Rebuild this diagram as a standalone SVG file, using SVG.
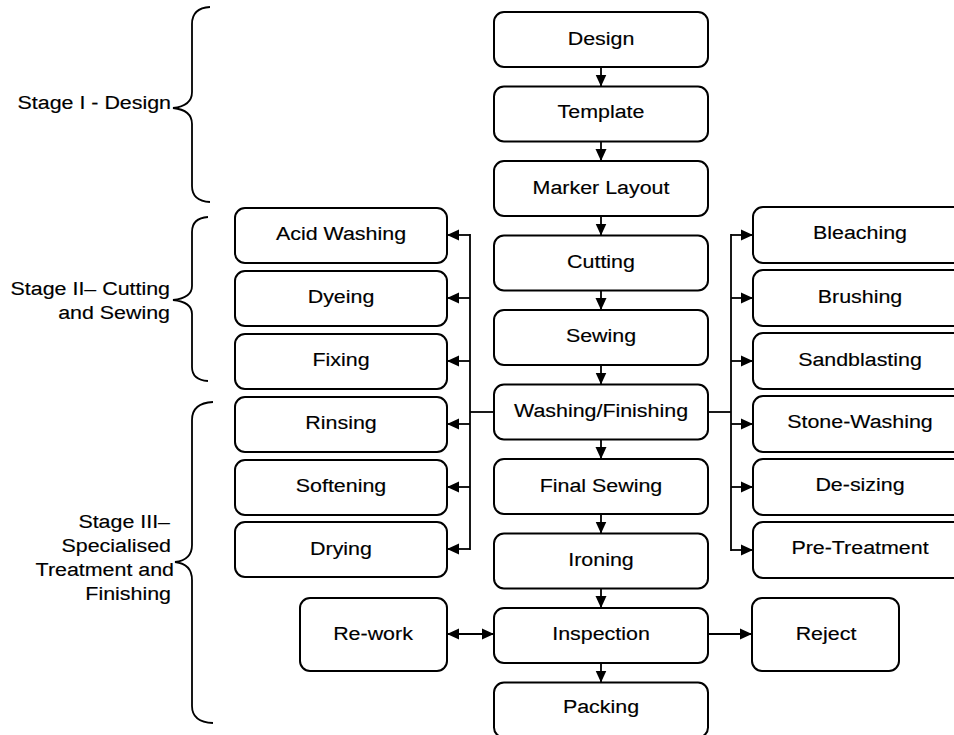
<svg xmlns="http://www.w3.org/2000/svg" width="954" height="735" viewBox="0 0 954 735">
<defs>
<style>
.box{fill:#fff;stroke:#000;stroke-width:2}
.t{font-family:"Liberation Sans",Arial,sans-serif;font-size:18px;fill:#000;stroke:#000;stroke-width:0.15;text-anchor:middle}
.s{font-family:"Liberation Sans",Arial,sans-serif;font-size:18px;fill:#000;stroke:#000;stroke-width:0.15;text-anchor:end}
.c{fill:none;stroke:#000;stroke-width:1.8}
.br{fill:none;stroke:#000;stroke-width:1.8}
</style>
<marker id="ah" markerUnits="userSpaceOnUse" markerWidth="13" markerHeight="13" refX="12" refY="6.5" orient="auto-start-reverse">
<path d="M0,1 L12,6.5 L0,12 z" fill="#000"/>
</marker>
</defs>
<rect width="954" height="735" fill="#fff"/>

<g id="braces">
<path class="br" d="M210,7 Q192,8 192,24 L192,92 Q192,106 173,108 Q192,110 192,124 L192,186 Q192,201 210,202"/>
<path class="br" d="M208,217 Q192,218 192,232 L192,286 Q192,298 173,300 Q192,302 192,314 L192,367 Q192,380 208,381"/>
<path class="br" d="M213,402 Q192,403 192,420 L192,545 Q192,560 175,562 Q192,564 192,580 L192,706 Q192,722 213,723"/>
</g>

<g id="stage-labels">
<text class="s" transform="translate(171,109) scale(1.19,1)">Stage I - Design</text>
<text class="s" transform="translate(170,295) scale(1.19,1)">Stage II– Cutting</text>
<text class="s" transform="translate(170,319) scale(1.19,1)">and Sewing</text>
<text class="s" transform="translate(170,528) scale(1.19,1)">Stage III–</text>
<text class="s" transform="translate(171,552) scale(1.19,1)">Specialised</text>
<text class="s" transform="translate(174,576) scale(1.19,1)">Treatment and</text>
<text class="s" transform="translate(171,600) scale(1.19,1)">Finishing</text>
</g>

<g id="connectors">
<line class="c" x1="601" y1="67" x2="601" y2="86.5" marker-end="url(#ah)"/>
<line class="c" x1="601" y1="141.5" x2="601" y2="161" marker-end="url(#ah)"/>
<line class="c" x1="601" y1="216" x2="601" y2="235.5" marker-end="url(#ah)"/>
<line class="c" x1="601" y1="290.5" x2="601" y2="310" marker-end="url(#ah)"/>
<line class="c" x1="601" y1="365" x2="601" y2="384.5" marker-end="url(#ah)"/>
<line class="c" x1="601" y1="439.5" x2="601" y2="459" marker-end="url(#ah)"/>
<line class="c" x1="601" y1="514" x2="601" y2="533.5" marker-end="url(#ah)"/>
<line class="c" x1="601" y1="588.5" x2="601" y2="608" marker-end="url(#ah)"/>
<line class="c" x1="601" y1="663" x2="601" y2="682.5" marker-end="url(#ah)"/>
<!-- left branch -->
<polyline class="c" points="494,412 470,412"/>
<line class="c" x1="470" y1="234" x2="470" y2="550"/>
<line class="c" x1="470" y1="235" x2="447" y2="235" marker-end="url(#ah)"/>
<line class="c" x1="470" y1="298" x2="447" y2="298" marker-end="url(#ah)"/>
<line class="c" x1="470" y1="361" x2="447" y2="361" marker-end="url(#ah)"/>
<line class="c" x1="470" y1="424" x2="447" y2="424" marker-end="url(#ah)"/>
<line class="c" x1="470" y1="487" x2="447" y2="487" marker-end="url(#ah)"/>
<line class="c" x1="470" y1="549" x2="447" y2="549" marker-end="url(#ah)"/>
<!-- right branch -->
<polyline class="c" points="708,412 731,412"/>
<line class="c" x1="731" y1="234" x2="731" y2="551"/>
<line class="c" x1="731" y1="235" x2="753" y2="235" marker-end="url(#ah)"/>
<line class="c" x1="731" y1="298" x2="753" y2="298" marker-end="url(#ah)"/>
<line class="c" x1="731" y1="361" x2="753" y2="361" marker-end="url(#ah)"/>
<line class="c" x1="731" y1="424" x2="753" y2="424" marker-end="url(#ah)"/>
<line class="c" x1="731" y1="487" x2="753" y2="487" marker-end="url(#ah)"/>
<line class="c" x1="731" y1="550" x2="753" y2="550" marker-end="url(#ah)"/>
<!-- inspection -->
<line class="c" x1="447" y1="634" x2="494" y2="634" marker-start="url(#ah)" marker-end="url(#ah)"/>
<line class="c" x1="708" y1="634" x2="752" y2="634" marker-end="url(#ah)"/>
</g>

<g id="design"><rect class="box" x="494" y="12" width="214" height="55" rx="10"/><text class="t" transform="translate(601,45) scale(1.19,1)">Design</text></g>
<g id="template"><rect class="box" x="494" y="86.5" width="214" height="55" rx="10"/><text class="t" transform="translate(601,118) scale(1.19,1)">Template</text></g>
<g id="marker-layout"><rect class="box" x="494" y="161" width="214" height="55" rx="10"/><text class="t" transform="translate(601,194) scale(1.19,1)">Marker Layout</text></g>
<g id="cutting"><rect class="box" x="494" y="235.5" width="214" height="55" rx="10"/><text class="t" transform="translate(601,268) scale(1.19,1)">Cutting</text></g>
<g id="sewing"><rect class="box" x="494" y="310" width="214" height="55" rx="10"/><text class="t" transform="translate(601,342) scale(1.19,1)">Sewing</text></g>
<g id="washing-finishing"><rect class="box" x="494" y="384.5" width="214" height="55" rx="10"/><text class="t" transform="translate(601,417) scale(1.19,1)">Washing/Finishing</text></g>
<g id="final-sewing"><rect class="box" x="494" y="459" width="214" height="55" rx="10"/><text class="t" transform="translate(601,492) scale(1.19,1)">Final Sewing</text></g>
<g id="ironing"><rect class="box" x="494" y="533.5" width="214" height="55" rx="10"/><text class="t" transform="translate(601,566) scale(1.19,1)">Ironing</text></g>
<g id="inspection"><rect class="box" x="494" y="608" width="214" height="55" rx="10"/><text class="t" transform="translate(601,640) scale(1.19,1)">Inspection</text></g>
<g id="packing"><rect class="box" x="494" y="682.5" width="214" height="55" rx="10"/><text class="t" transform="translate(601,713) scale(1.19,1)">Packing</text></g>

<g id="acid-washing"><rect class="box" x="235" y="208" width="212" height="55" rx="10"/><text class="t" transform="translate(341,240) scale(1.19,1)">Acid Washing</text></g>
<g id="dyeing"><rect class="box" x="235" y="271" width="212" height="55" rx="10"/><text class="t" transform="translate(341,303) scale(1.19,1)">Dyeing</text></g>
<g id="fixing"><rect class="box" x="235" y="334" width="212" height="55" rx="10"/><text class="t" transform="translate(341,366) scale(1.19,1)">Fixing</text></g>
<g id="rinsing"><rect class="box" x="235" y="397" width="212" height="55" rx="10"/><text class="t" transform="translate(341,429) scale(1.19,1)">Rinsing</text></g>
<g id="softening"><rect class="box" x="235" y="460" width="212" height="55" rx="10"/><text class="t" transform="translate(341,492) scale(1.19,1)">Softening</text></g>
<g id="drying"><rect class="box" x="235" y="522" width="212" height="55" rx="10"/><text class="t" transform="translate(341,555) scale(1.19,1)">Drying</text></g>

<g id="bleaching"><rect class="box" x="753" y="207" width="214" height="56" rx="10"/><text class="t" transform="translate(860,239) scale(1.19,1)">Bleaching</text></g>
<g id="brushing"><rect class="box" x="753" y="270" width="214" height="56" rx="10"/><text class="t" transform="translate(860,303) scale(1.19,1)">Brushing</text></g>
<g id="sandblasting"><rect class="box" x="753" y="333" width="214" height="56" rx="10"/><text class="t" transform="translate(860,366) scale(1.19,1)">Sandblasting</text></g>
<g id="stone-washing"><rect class="box" x="753" y="396" width="214" height="56" rx="10"/><text class="t" transform="translate(860,428) scale(1.19,1)">Stone-Washing</text></g>
<g id="de-sizing"><rect class="box" x="753" y="459" width="214" height="56" rx="10"/><text class="t" transform="translate(860,491) scale(1.19,1)">De-sizing</text></g>
<g id="pre-treatment"><rect class="box" x="753" y="522" width="214" height="56" rx="10"/><text class="t" transform="translate(860,554) scale(1.19,1)">Pre-Treatment</text></g>

<g id="re-work"><rect class="box" x="300" y="598" width="147" height="73" rx="10"/><text class="t" transform="translate(373,640) scale(1.19,1)">Re-work</text></g>
<g id="reject"><rect class="box" x="752" y="598" width="147" height="73" rx="10"/><text class="t" transform="translate(826,640) scale(1.19,1)">Reject</text></g>
</svg>
